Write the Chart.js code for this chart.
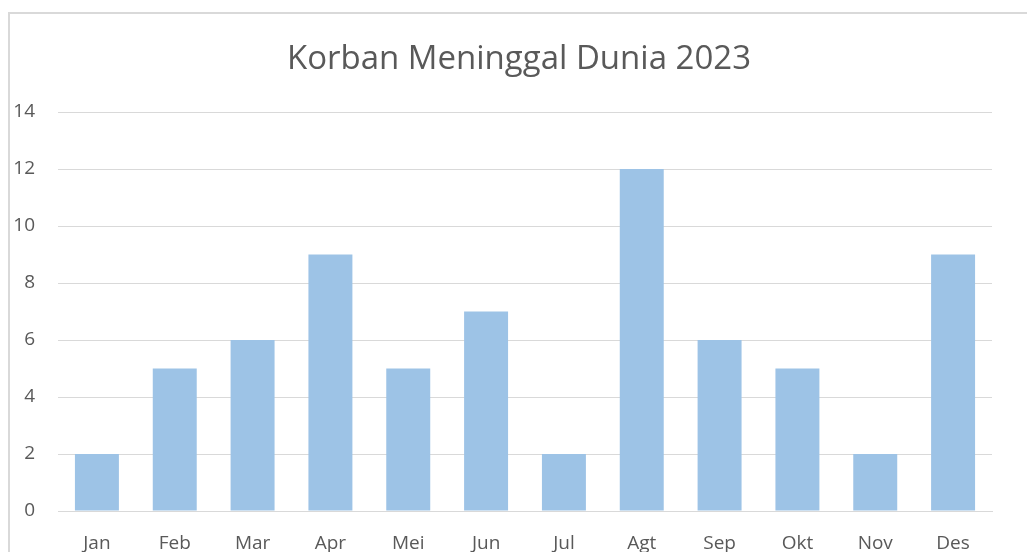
<!DOCTYPE html>
<html>
<head>
<meta charset="utf-8">
<script src="https://cdn.jsdelivr.net/npm/chart.js@4"></script>
<style>
  html, body { margin: 0; padding: 0; background: #fff; overflow: hidden; }
  #wrap { width: 1027px; height: 552px; }
</style>
</head>
<body>
<div id="wrap"><canvas id="deathChart" width="1027" height="552"></canvas></div>
<script>
// Korban meninggal dunia per bulan
const months = ["Jan", "Feb", "Mar", "Apr", "Mei", "Jun", "Jul", "Agt", "Sep", "Okt", "Nov", "Des"];
const deaths = [2, 5, 6, 9, 5, 7, 2, 12, 6, 5, 2, 9];
const yMax = 14;
const yStep = 2;
const chartTitle = "Korban Meninggal Dunia 2023";

const fontFamily = "'Open Sans', 'Noto Sans', sans-serif";

// light grey frame like the Excel chart area, plus the title
// (the Excel chart is wider than the picture, so the title sits off-centre)
const frame = {
  id: "frame",
  beforeDraw(chart) {
    const ctx = chart.ctx;
    ctx.save();
    ctx.fillStyle = "#ffffff";
    ctx.fillRect(0, 0, chart.width, chart.height);
    ctx.strokeStyle = "#d9d9d9";
    ctx.lineWidth = 2;
    ctx.strokeRect(9, 13, chart.width + 20, chart.height + 20);
    ctx.fillStyle = "#595959";
    ctx.font = "33px " + fontFamily;
    ctx.textAlign = "center";
    ctx.textBaseline = "alphabetic";
    ctx.fillText(chartTitle, 519, 69);
    ctx.restore();
  },
};

let ctxDeath = document.getElementById("deathChart").getContext("2d");
let deathChart = new Chart(ctxDeath, {
  type: "bar",
  data: {
    labels: months,
    datasets: [
      {
        label: "Korban Meninggal Dunia",
        data: deaths,
        backgroundColor: "#9dc3e6",
        borderWidth: 0,
        barPercentage: 0.565,
        categoryPercentage: 1,
      },
    ],
  },
  options: {
    responsive: false,
    animation: false,
    layout: { padding: { top: 112, right: 35, bottom: 0, left: 0 } },
    plugins: {
      legend: { display: false },
      tooltip: { enabled: false },
      title: { display: false },
    },
    scales: {
      x: {
        grid: { display: false, drawTicks: false },
        border: { display: true, color: "#d9d9d9", width: 1 },
        ticks: {
          color: "#595959",
          font: { family: fontFamily, size: 19 },
          padding: 21,
          maxRotation: 0,
        },
        afterFit(scale) { scale.height = 41; },
      },
      y: {
        min: 0,
        max: yMax,
        grid: { color: "#d9d9d9", lineWidth: 1, drawTicks: false },
        border: { display: false },
        ticks: {
          stepSize: yStep,
          color: "#595959",
          font: { family: fontFamily, size: 19 },
          padding: 23,
        },
        afterFit(scale) { scale.width = 58; },
      },
    },
  },
  plugins: [frame],
});
</script>
</body>
</html>
